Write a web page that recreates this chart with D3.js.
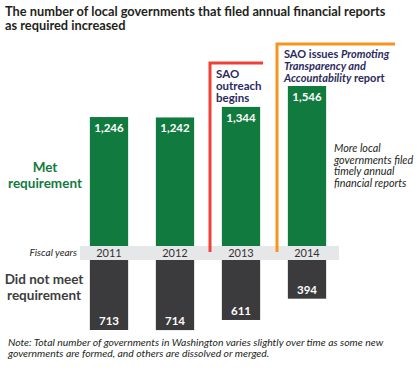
<!DOCTYPE html>
<html>
<head>
<meta charset="utf-8">
<script src="https://cdn.jsdelivr.net/npm/d3@7"></script>
<style>
  body { margin: 0; background: #fff; }
  svg { display: block; font-family: Lato, "Open Sans", sans-serif; }
</style>
</head>
<body>
<svg id="chart" width="417" height="370"></svg>
<script>
// Local government annual financial report filings
var years = ["2011", "2012", "2013", "2014"];
var metValues = [1246, 1242, 1344, 1546];
var notMetValues = [713, 714, 611, 394];

var green = "#117a3f";
var dark = "#3b3a3c";
var navy = "#2b2a60";

var svg = d3.select("#chart");

// band scale for the fiscal years
var x = d3.scaleBand()
    .domain(years)
    .range([76, 340])
    .paddingInner(0.42)
    .paddingOuter(0.21);

var baseTop = 246;    // top of the gray year band
var baseBottom = 260; // bottom of the gray year band

var yMet = d3.scaleLinear().domain([0, 1546]).range([0, 160]);
var yNot = d3.scaleLinear().domain([0, 713]).range([0, 70]);

// title
var title = svg.append("text")
    .attr("x", 5)
    .attr("y", 15.5)
    .attr("font-size", 12.8)
    .attr("font-weight", "bold")
    .attr("fill", "#231f20");
title.append("tspan").attr("x", 5).text("The number of local governments that filed annual financial reports");
title.append("tspan").attr("x", 5).attr("dy", 14.5).text("as required increased");

// gray band behind year labels
svg.append("rect")
    .attr("x", 80)
    .attr("y", baseTop)
    .attr("width", 259)
    .attr("height", baseBottom - baseTop)
    .attr("fill", "#e6e7e8");

// green bars - met requirement
svg.selectAll(".met")
    .data(metValues)
    .enter()
    .append("rect")
    .attr("class", "met")
    .attr("x", function(d, i) { return x(years[i]); })
    .attr("y", function(d) { return baseTop - yMet(d); })
    .attr("width", x.bandwidth())
    .attr("height", function(d) { return yMet(d); })
    .attr("fill", green);

svg.selectAll(".metLabel")
    .data(metValues)
    .enter()
    .append("text")
    .attr("class", "metLabel")
    .attr("x", function(d, i) { return x(years[i]) + x.bandwidth() / 2; })
    .attr("y", function(d) { return baseTop - yMet(d) + 15; })
    .attr("text-anchor", "middle")
    .attr("font-size", 11.5)
    .attr("font-weight", "bold")
    .attr("fill", "#fff")
    .text(function(d) { return d3.format(",")(d); });

// dark bars - did not meet requirement
svg.selectAll(".notMet")
    .data(notMetValues)
    .enter()
    .append("rect")
    .attr("class", "notMet")
    .attr("x", function(d, i) { return x(years[i]); })
    .attr("y", baseBottom)
    .attr("width", x.bandwidth())
    .attr("height", function(d) { return yNot(d); })
    .attr("fill", dark);

svg.selectAll(".notMetLabel")
    .data(notMetValues)
    .enter()
    .append("text")
    .attr("class", "notMetLabel")
    .attr("x", function(d, i) { return x(years[i]) + x.bandwidth() / 2; })
    .attr("y", function(d) { return baseBottom + yNot(d) - 5; })
    .attr("text-anchor", "middle")
    .attr("font-size", 11.5)
    .attr("font-weight", "bold")
    .attr("fill", "#fff")
    .text(function(d) { return d3.format(",")(d); });

// year labels in the band
svg.selectAll(".yearLabel")
    .data(years)
    .enter()
    .append("text")
    .attr("class", "yearLabel")
    .attr("x", function(d) { return x(d) + x.bandwidth() / 2; })
    .attr("y", 257)
    .attr("text-anchor", "middle")
    .attr("font-size", 11)
    .attr("fill", "#333")
    .text(function(d) { return d; });

svg.append("text")
    .attr("x", 77)
    .attr("y", 256)
    .attr("text-anchor", "end")
    .attr("font-size", 10)
    .attr("font-style", "italic")
    .attr("fill", "#231f20")
    .text("Fiscal years");

// side labels
var met = svg.append("text")
    .attr("text-anchor", "middle")
    .attr("font-size", 13.5)
    .attr("font-weight", "bold")
    .attr("fill", green);
met.append("tspan").attr("x", 45).attr("y", 172).text("Met");
met.append("tspan").attr("x", 45).attr("dy", 16).text("requirement");

var notMet = svg.append("text")
    .attr("text-anchor", "middle")
    .attr("font-size", 13.5)
    .attr("font-weight", "bold")
    .attr("fill", "#3d3d3f");
notMet.append("tspan").attr("x", 44).attr("y", 284).text("Did not meet");
notMet.append("tspan").attr("x", 44).attr("dy", 16).text("requirement");

// event brackets
svg.append("path")
    .attr("d", "M210,252V63H263")
    .attr("fill", "none")
    .attr("stroke", "#ef4136")
    .attr("stroke-width", 3);

svg.append("path")
    .attr("d", "M277,252V44H395")
    .attr("fill", "none")
    .attr("stroke", "#f7941d")
    .attr("stroke-width", 3);

var outreach = svg.append("text")
    .attr("font-size", 11.5)
    .attr("font-weight", "bold")
    .attr("fill", navy);
outreach.append("tspan").attr("x", 216).attr("y", 78).text("SAO");
outreach.append("tspan").attr("x", 216).attr("dy", 12).text("outreach");
outreach.append("tspan").attr("x", 216).attr("dy", 12).text("begins");

var issues = svg.append("text")
    .attr("font-size", 11)
    .attr("font-weight", "bold")
    .attr("fill", navy);
var l1 = issues.append("tspan").attr("x", 284).attr("y", 58);
l1.append("tspan").text("SAO issues ");
l1.append("tspan").attr("font-style", "italic").text("Promoting");
issues.append("tspan").attr("x", 284).attr("dy", 12).attr("font-style", "italic").text("Transparency and");
var l3 = issues.append("tspan").attr("x", 284).attr("dy", 12);
l3.append("tspan").attr("font-style", "italic").text("Accountability");
l3.append("tspan").text(" report");

// annotation
var more = svg.append("text")
    .attr("font-size", 10.8)
    .attr("font-style", "italic")
    .attr("fill", "#231f20");
["More local", "governments filed", "timely annual", "financial reports"].forEach(function(s, i) {
    more.append("tspan").attr("x", 334).attr("y", 152 + i * 11.5).text(s);
});

// note
var note = svg.append("text")
    .attr("font-size", 10.4)
    .attr("font-style", "italic")
    .attr("fill", "#231f20");
note.append("tspan").attr("x", 8).attr("y", 346).text("Note: Total number of governments in Washington varies slightly over time as some new");
note.append("tspan").attr("x", 8).attr("dy", 11).text("governments are formed, and others are dissolved or merged.");
</script>
</body>
</html>
